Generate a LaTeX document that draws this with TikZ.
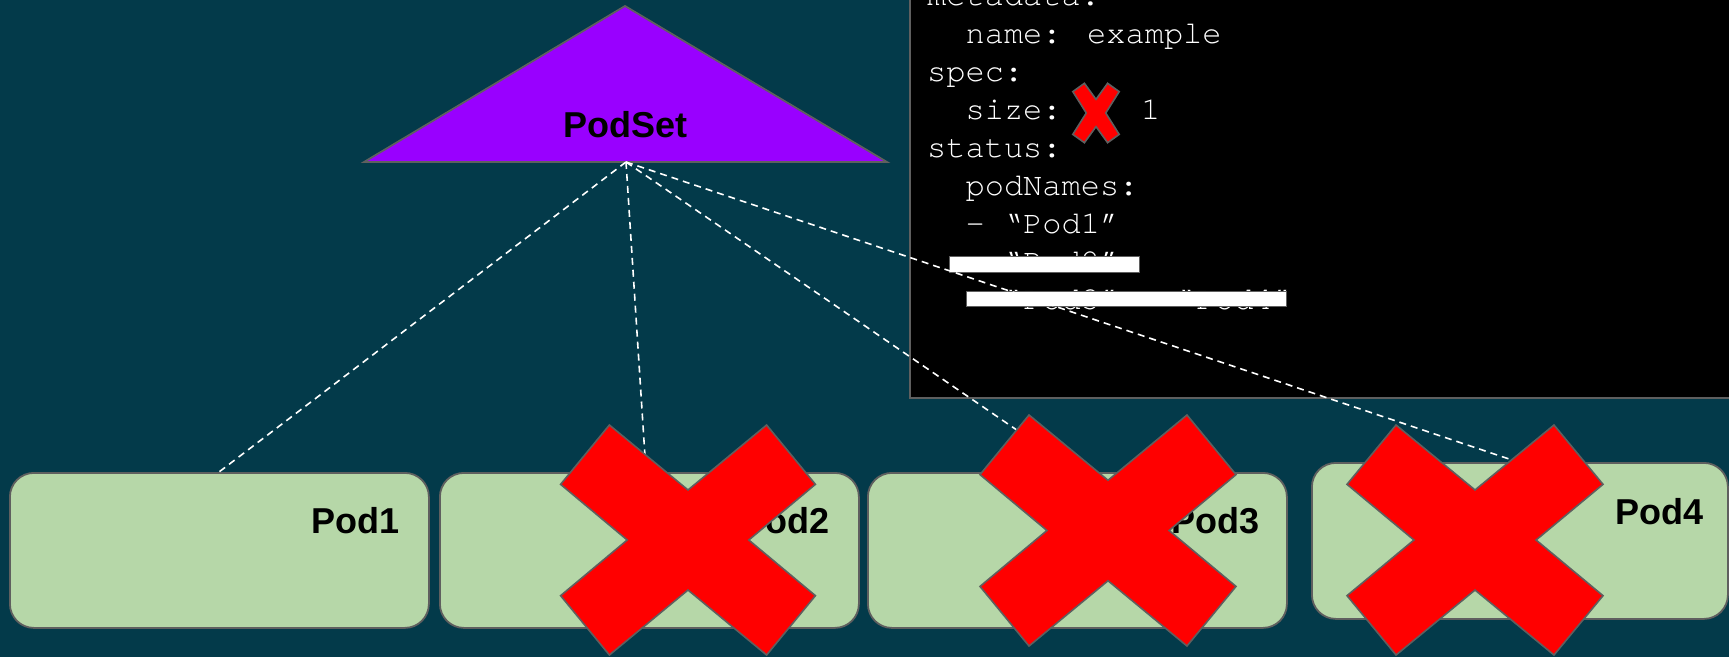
\documentclass[tikz,border=0pt]{standalone}
\usepackage{fontspec}
\setmainfont{Liberation Sans}
\newfontfamily\codefont{texgyrecursor-regular.otf}
\definecolor{bgteal}{RGB}{3,58,74}
\definecolor{podpurple}{HTML}{9900FF}
\definecolor{podgreen}{HTML}{B6D7A8}
\definecolor{xred}{HTML}{FF0000}
\definecolor{edgegray}{HTML}{5F5F5F}
\newcommand{\drawcross}[8]{%
  \begin{scope}[shift={(#1,#2)},xscale=#3,yscale=#4]
    \filldraw[crossx] (-#5,-1) -- (0,-#8) -- (#5,-1) -- (1,-#6) -- (#7,0) -- (1,#6)
      -- (#5,1) -- (0,#8) -- (-#5,1) -- (-1,#6) -- (-#7,0) -- (-1,-#6) -- cycle;
  \end{scope}}
\begin{document}
\begin{tikzpicture}[x=1pt,y=-1pt,
  podbox/.style={draw=edgegray, line width=1.8pt, fill=podgreen, rounded corners=24pt,
    minimum width=419pt, minimum height=155pt, anchor=north west, inner sep=0pt},
  podlabel/.style={anchor=base east, inner sep=0pt, font=\fontsize{36}{43}\selectfont\bfseries},
  tri/.style={draw=edgegray, line width=1.8pt, fill=podpurple, line join=miter},
  conn/.style={draw=white, line width=1.6pt, dash pattern=on 7pt off 5pt},
  crossx/.style={fill=xred, draw=edgegray, line width=1.6pt, line join=miter},
  codeline/.style={anchor=base west, inner sep=0pt, text=white, font=\codefont\fontsize{32}{38}\selectfont},
  whitebar/.style={fill=white, draw=edgegray, line width=0.8pt}]
\useasboundingbox (0,0) rectangle (1729,657);
\clip (0,0) rectangle (1729,657);
\fill[bgteal] (0,0) rectangle (1729,657);
% code panel
\filldraw[fill=black, draw=edgegray, line width=2pt] (910,-10) rectangle (1740,398);
\node[codeline] (c1) at (927,5.3) {metadata:};
\node[codeline] (c2) at (965.4,43.3) {name: example};
\node[codeline] (c3) at (927,81.7) {spec:};
\node[codeline] (c4) at (965.4,119.3) {size:};
\node[codeline] (c4b) at (1141,119.3) {1};
\node[codeline] (c5) at (927,157.3) {status:};
\node[codeline] (c6) at (965.4,195) {podNames:};
\node[codeline] (c7) at (965.4,233.3) {- “Pod1”};
\node[codeline] (c8) at (965.4,271.3) {- “Pod2”};
\node[codeline] (c9) at (965.4,309.3) {- “Pod3” - “Pod4”};
\filldraw[whitebar] (949,256) rectangle (1139,272);
\filldraw[whitebar] (966,291) rectangle (1286,306);
\drawcross{1096}{113}{23.2}{29.7}{0.5}{0.72}{0.42}{0.46}
% PodSet triangle
\draw[tri] (625,6) -- (887,162) -- (364,162) -- cycle;
\node[anchor=base, inner sep=0pt, font=\fontsize{36}{43}\selectfont\bfseries] (pslab) at (625,137) {PodSet};
\coordinate (ps) at (626,162);
% pods
\node[podbox] (pod1) at (9,472) {};
\node[podbox] (pod2) at (439,472) {};
\node[podbox] (pod3) at (867,472) {};
\node[podbox, minimum width=416pt, minimum height=156pt] (pod4) at (1311,462) {};
\node[podlabel] (l1) at (400,533) {Pod1};
\node[podlabel] (l2) at (830,533) {Pod2};
\node[podlabel] (l3) at (1260,533) {Pod3};
\node[podlabel] (l4) at (1704,524) {Pod4};
% connectors
\coordinate (e1) at (219,472);
\coordinate (e2) at (646,472);
\coordinate (e3) at (1078,472);
\coordinate (e4) at (1515,461);
\draw[conn] (ps) -- (e1);
\draw[conn] (ps) -- (e2);
\draw[conn] (ps) -- (e3);
\draw[conn] (ps) -- (e4);
% crosses
\drawcross{688}{540}{127.4}{115}{0.617}{0.484}{0.477}{0.435}
\drawcross{1108}{530.5}{128}{115.5}{0.617}{0.484}{0.477}{0.435}
\drawcross{1475}{540}{128}{115}{0.617}{0.484}{0.477}{0.435}
\end{tikzpicture}
\end{document}
